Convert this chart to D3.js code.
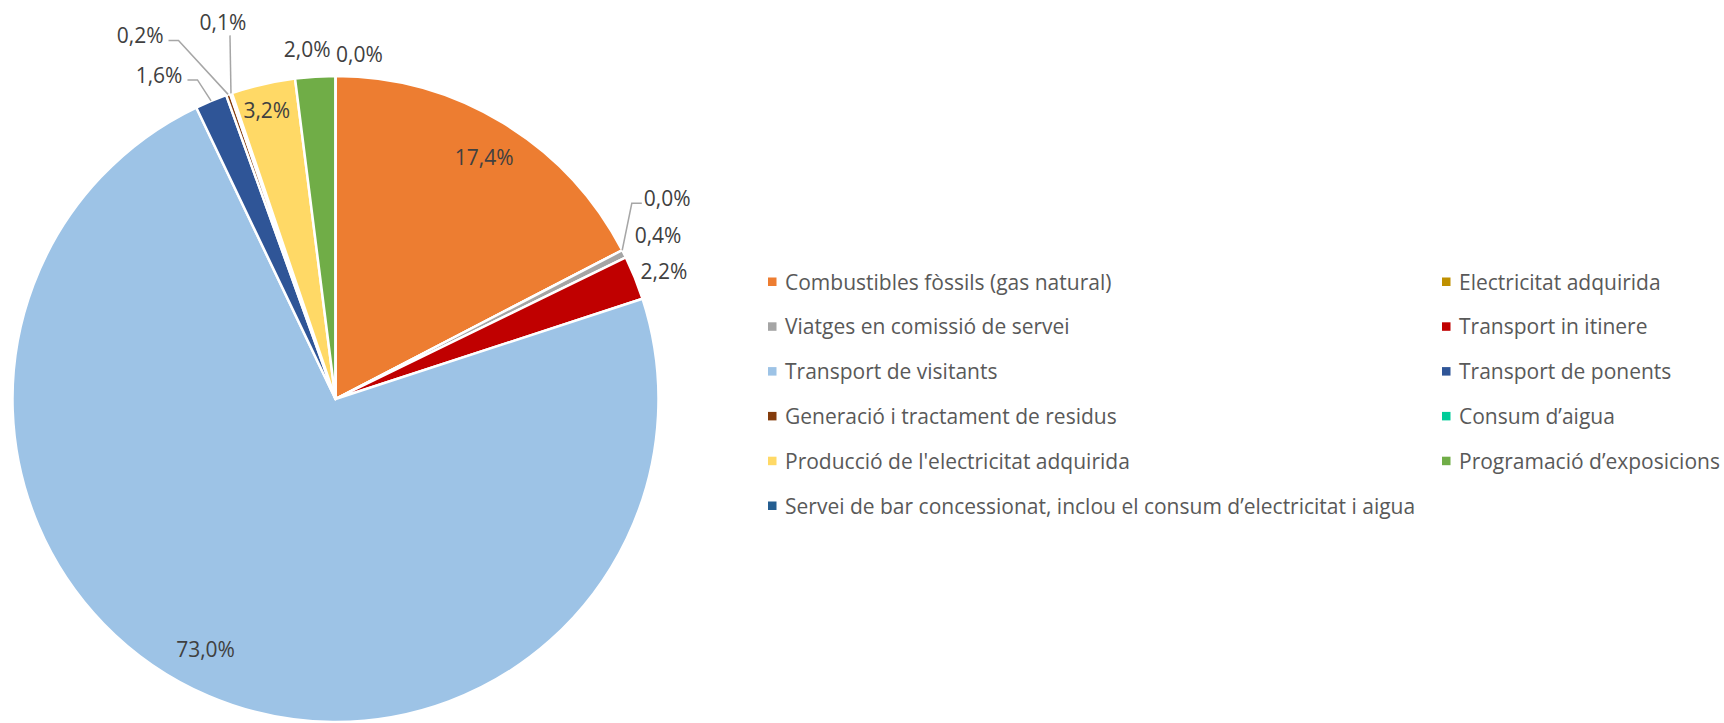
<html>
<head>
<meta charset="utf-8">
<script src="https://cdn.jsdelivr.net/npm/d3@7"></script>
<style>
  body { margin: 0; background: #fff; }
  text { font-family: "Open Sans", "Noto Sans", sans-serif; }
</style>
</head>
<body>
<script>
// categories in pie order (clockwise from 12 o'clock), also legend order
var categories = [
  "Combustibles fòssils (gas natural)",
  "Electricitat adquirida",
  "Viatges en comissió de servei",
  "Transport in itinere",
  "Transport de visitants",
  "Transport de ponents",
  "Generació i tractament de residus",
  "Consum d\u2019aigua",
  "Producció de l'electricitat adquirida",
  "Programació d\u2019exposicions",
  "Servei de bar concessionat, inclou el consum d\u2019electricitat i aigua"
];
var values = [17.4, 0.0, 0.4, 2.2, 73.0, 1.6, 0.2, 0.1, 3.2, 2.0, 0.0];
var colors = ["#ED7D31", "#BF9000", "#A5A5A5", "#C00000", "#9DC3E6", "#2F5597",
              "#843C0C", "#00CC99", "#FFD966", "#70AD47", "#255E91"];

// label placement tweaks (Excel best-fit layout), relative to the slice anchor
var labelShift = [[1, 1], [45, -52], [34, -18], [29, -6], [-18, -11], [-52, -26],
                  [-88, -59], [-8, -71], [-5, -12], [-8, -27], [24, -22]];
var leaderSide = [null, "left", null, null, null, "right", "right", "below", null, null, null];

var W = 1724, H = 723;
var cx = 335.5, cy = 399, R = 323;

var svg = d3.select("body").append("svg").attr("width", W).attr("height", H);

var pie = d3.pie().sort(null).value(function (d) { return d; });
var arcs = pie(values);
var arc = d3.arc().innerRadius(0).outerRadius(R);
var labelArc = d3.arc().innerRadius(R * 0.8).outerRadius(R * 0.96);
var edgeArc = d3.arc().innerRadius(R).outerRadius(R);

var g = svg.append("g").attr("transform", "translate(" + cx + "," + cy + ")");

g.selectAll("path.slice")
  .data(arcs)
  .enter().append("path")
  .attr("class", "slice")
  .attr("d", arc)
  .attr("fill", function (d, i) { return colors[i]; })
  .attr("stroke", "#fff")
  .attr("stroke-width", 2.5)
  .attr("stroke-linejoin", "round");

var fmt = function (v) { return d3.format(".1f")(v).replace(".", ",") + "%"; };
var fontSize = 21;

var labels = g.selectAll("g.lbl")
  .data(arcs)
  .enter().append("g")
  .attr("class", "lbl");

labels.each(function (d, i) {
  var inside = d.value >= 3;
  var base = inside ? labelArc.centroid(d) : edgeArc.centroid(d);
  var x = base[0] + labelShift[i][0];
  var y = base[1] + labelShift[i][1];
  var t = d3.select(this).append("text")
    .attr("x", x).attr("y", y)
    .attr("dy", "0.36em")
    .attr("text-anchor", "middle")
    .attr("font-size", fontSize)
    .attr("fill", "#404040")
    .text(fmt(d.value));
  var side = leaderSide[i];
  if (!side) return;
  var w = t.node().getComputedTextLength();
  var e = edgeArc.centroid(d);
  var pts;
  if (side === "left") {
    var lx = x - w / 2;
    pts = [e, [lx - 12, y + 5], [lx - 2, y + 5]];
  } else if (side === "right") {
    var rx = x + w / 2;
    pts = [e, [rx + 15, y + 5], [rx + 5, y + 5]];
  } else {
    pts = [e, [e[0] - 1, y + 13]];
  }
  d3.select(this).insert("path", "text")
    .attr("d", d3.line()(pts))
    .attr("fill", "none")
    .attr("stroke", "#A6A6A6")
    .attr("stroke-width", 1.5);
});

// legend: two columns, row-major
var legX = [768, 1442], legY0 = 282, legStep = 44.8;
var leg = svg.append("g").selectAll("g")
  .data(categories)
  .enter().append("g")
  .attr("transform", function (d, i) {
    return "translate(" + legX[i % 2] + "," + (legY0 + Math.floor(i / 2) * legStep) + ")";
  });
leg.append("rect")
  .attr("x", 0).attr("y", -4.5)
  .attr("width", 8.5).attr("height", 8.5)
  .attr("fill", function (d, i) { return colors[i]; });
leg.append("text")
  .attr("x", 17).attr("y", 0)
  .attr("dy", "0.36em")
  .attr("font-size", fontSize)
  .attr("fill", "#595959")
  .text(function (d) { return d; });
</script>
</body>
</html>
